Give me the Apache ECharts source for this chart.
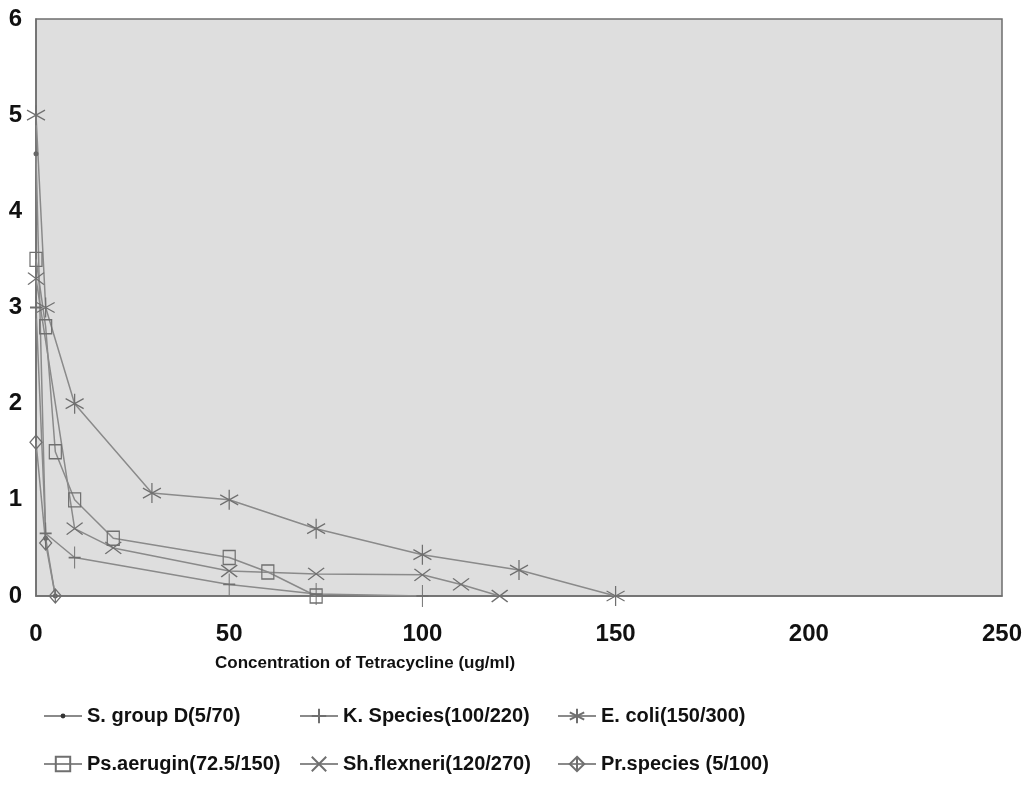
<!DOCTYPE html>
<html><head><meta charset="utf-8">
<script src="https://cdn.jsdelivr.net/npm/echarts@6/dist/echarts.min.js"></script>
<style>html,body{margin:0;padding:0;background:#fff}#c{width:1036px;height:801px}</style>
</head><body><div id="c"></div>
<script>
const xTicks = [0, 50, 100, 150, 200, 250];
const yTicks = [0, 1, 2, 3, 4, 5, 6];
const seriesNames = ['S. group D(5/70)', 'K. Species(100/220)', 'E. coli(150/300)',
                     'Ps.aerugin(72.5/150)', 'Sh.flexneri(120/270)', 'Pr.species (5/100)'];
const sGroupD   = [[0, 4.6], [2.5, 0.6], [5, 0]];
const kSpecies  = [[0, 3.0], [2.5, 0.65], [10, 0.4], [50, 0.12], [72.5, 0.02], [100, 0]];
const eColi     = [[0, 5.0], [2.5, 3.0], [10, 2.0], [30, 1.07], [50, 1.0], [72.5, 0.7], [100, 0.43], [125, 0.27], [150, 0]];
const psAerugin = [[0, 3.5], [2.5, 2.8], [5, 1.5], [10, 1.0], [20, 0.6], [50, 0.4], [60, 0.25], [72.5, 0]];
const shFlex    = [[0, 3.3], [10, 0.7], [20, 0.5], [50, 0.26], [72.5, 0.23], [100, 0.22], [110, 0.12], [120, 0]];
const prSpecies = [[0, 1.6], [2.5, 0.55], [5, 0]];

const dataList = [sGroupD, kSpecies, eColi, psAerugin, shFlex, prSpecies];
const lineCol = '#8a8a8a';
const symbols = [
  'circle',
  'path://M0,-10L0,10M-10,0L10,0',
  'path://M0,-10L0,10M-8.7,-5L8.7,5M-8.7,5L8.7,-5',
  'path://M-8,-9L8,-9L8,9L-8,9Z',
  'path://M-9,-8L9,8M-9,8L9,-8',
  'path://M0,-10L8,0L0,10L-8,0ZM0,-10L0,10'
];
const sizes = [5, [12, 22], [18, 20], [12, 14], [16, 12], [12, 14]];
const font = '"Liberation Sans", Arial, sans-serif';

const series = dataList.map((d, i) => ({
  name: seriesNames[i],
  type: 'line',
  data: d,
  symbol: symbols[i],
  symbolSize: sizes[i],
  showAllSymbol: true,
  lineStyle: { color: lineCol, width: 1.5 },
  itemStyle: i === 0
    ? { color: '#666', borderColor: '#666', borderWidth: 0 }
    : { color: 'rgba(0,0,0,0)', borderColor: '#6f6f6f', borderWidth: 1.3 },
  emphasis: { disabled: true },
  z: 3
}));

const legPos = [[38, 701], [294, 701], [552, 701], [38, 749], [294, 749], [552, 749]];
const legends = seriesNames.map((n, i) => ({
  data: [i === 0 ? { name: n, itemStyle: { color: '#333' } } : n],
  left: legPos[i][0], top: legPos[i][1],
  itemWidth: 38, itemHeight: i === 0 ? 6 : 18, itemGap: 8,
  textStyle: { fontFamily: font, fontWeight: 'bold', fontSize: 20, color: '#111' },
  selectedMode: false
}));

const chart = echarts.init(document.getElementById('c'), null, { renderer: 'canvas' });
chart.setOption({
  animation: false,
  backgroundColor: '#fff',
  grid: { left: 36, right: 34, top: 19, bottom: 205, show: true,
          backgroundColor: '#dedede', borderColor: '#6e6e6e', borderWidth: 1.5 },
  xAxis: {
    type: 'value', min: xTicks[0], max: xTicks[xTicks.length - 1], interval: 50,
    axisLine: { show: true, lineStyle: { color: '#6e6e6e', width: 1.5 } },
    axisTick: { show: false }, splitLine: { show: false },
    axisLabel: { margin: 26, fontFamily: font, fontWeight: 'bold', fontSize: 24, color: '#111' }
  },
  yAxis: {
    type: 'value', min: yTicks[0], max: yTicks[yTicks.length - 1], interval: 1,
    axisLine: { show: true, lineStyle: { color: '#6e6e6e', width: 1.5 } },
    axisTick: { show: false }, splitLine: { show: false },
    axisLabel: { margin: 14, fontFamily: font, fontWeight: 'bold', fontSize: 24, color: '#111' }
  },
  title: {
    text: 'Concentration of Tetracycline (ug/ml)',
    left: 210, top: 650,
    textStyle: { fontFamily: font, fontWeight: 'bold', fontSize: 17, color: '#111' }
  },
  legend: legends,
  series: series
});
</script>
</body></html>
